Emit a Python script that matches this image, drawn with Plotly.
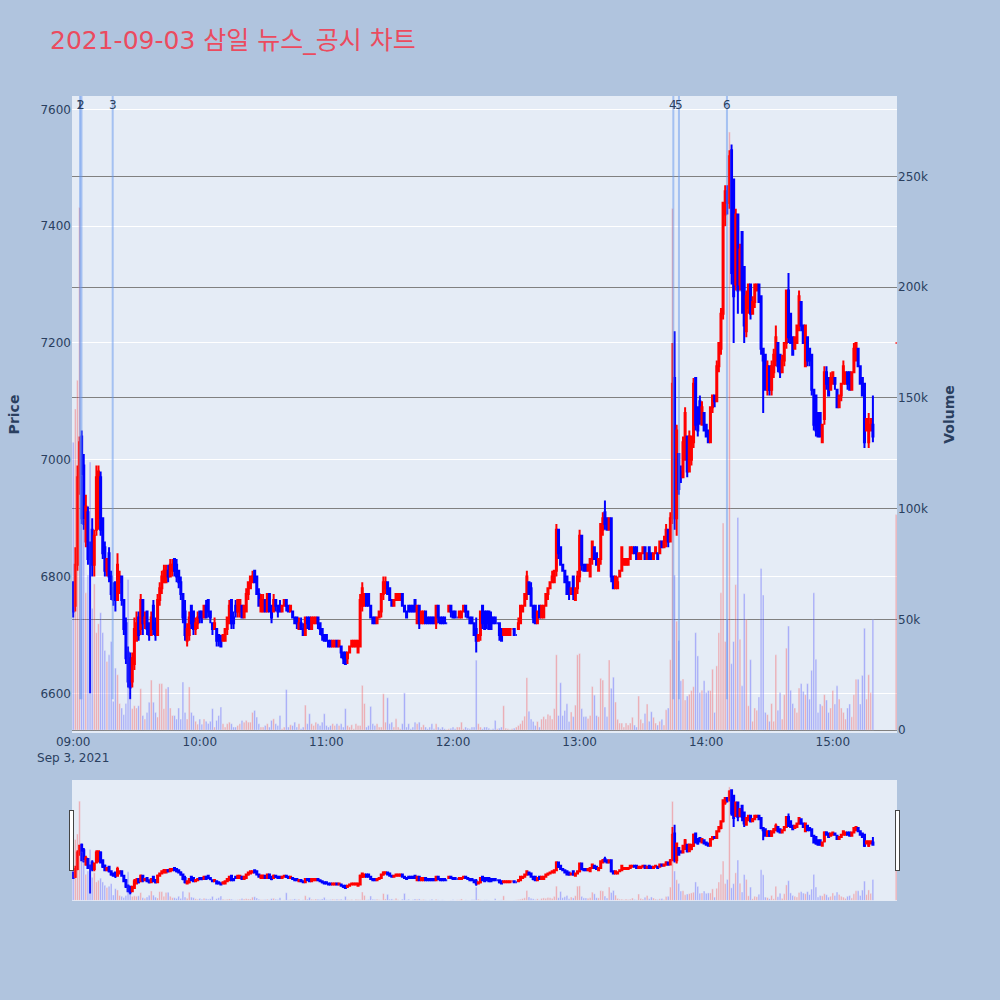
import plotly.graph_objects as go
import pandas as pd

# ---- data (1-minute candles 09:00..15:19 plus the 15:30 closing print) ----
opens = [
    6790, 6750, 6820, 6970, 7040, 6990, 6860, 6910, 6850, 6880,
    6820, 6880, 6900, 6970, 6900, 6850, 6810, 6840, 6800, 6780,
    6790, 6760, 6790, 6800, 6760, 6720, 6670, 6660, 6620, 6650,
    6690, 6730, 6710, 6760, 6720, 6740, 6720, 6700, 6750, 6720,
    6700, 6760, 6780, 6790, 6790, 6810, 6800, 6810, 6830, 6820,
    6810, 6790, 6770, 6740, 6690, 6700, 6750, 6740, 6710, 6720,
    6740, 6740, 6730, 6750, 6760, 6740, 6720, 6710, 6710, 6700,
    6690, 6690, 6690, 6710, 6720, 6760, 6730, 6750, 6740, 6740,
    6750, 6730, 6740, 6770, 6780, 6790, 6810, 6800, 6770, 6740,
    6740, 6760, 6740, 6770, 6750, 6740, 6760, 6750, 6750, 6740,
    6750, 6760, 6750, 6740, 6740, 6730, 6730, 6710, 6720, 6710,
    6700, 6730, 6730, 6710, 6720, 6720, 6730, 6720, 6710, 6700,
    6700, 6690, 6690, 6680, 6680, 6690, 6680, 6680, 6670, 6670,
    6660, 6670, 6680, 6680, 6680, 6670, 6680, 6750, 6750, 6770,
    6770, 6750, 6730, 6730, 6720, 6730, 6740, 6770, 6780, 6790,
    6780, 6760, 6750, 6760, 6760, 6760, 6770, 6750, 6740, 6750,
    6750, 6750, 6760, 6720, 6750, 6720, 6720, 6740, 6730, 6730,
    6730, 6730, 6720, 6750, 6730, 6730, 6730, 6720, 6740, 6750,
    6740, 6740, 6730, 6730, 6730, 6740, 6750, 6740, 6730, 6730,
    6720, 6710, 6690, 6700, 6750, 6740, 6740, 6740, 6730, 6730,
    6730, 6720, 6720, 6710, 6700, 6700, 6700, 6700, 6710, 6710,
    6700, 6710, 6720, 6740, 6750, 6770, 6790, 6780, 6750, 6750,
    6720, 6750, 6730, 6730, 6750, 6770, 6780, 6790, 6790, 6810,
    6880, 6850, 6820, 6810, 6800, 6790, 6770, 6800, 6760, 6780,
    6800, 6870, 6820, 6820, 6810, 6800, 6830, 6850, 6840, 6810,
    6830, 6880, 6910, 6900, 6880, 6900, 6800, 6780, 6780, 6800,
    6810, 6820, 6820, 6820, 6830, 6840, 6850, 6850, 6830, 6830,
    6840, 6850, 6830, 6850, 6840, 6830, 6840, 6840, 6840, 6860,
    6850, 6860, 6880, 6860, 6900, 7140, 6900, 7010, 6980, 6970,
    7000, 7040, 6980, 7000, 7030, 7140, 7090, 7100, 7060, 7080,
    7060, 7050, 7030, 7090, 7110, 7100, 7160, 7190, 7250, 7420,
    7460, 7440, 7530, 7480, 7300, 7420, 7300, 7390, 7330, 7220,
    7260, 7300, 7250, 7270, 7290, 7300, 7280, 7190, 7180, 7120,
    7160, 7120, 7150, 7170, 7200, 7180, 7150, 7170, 7200, 7290,
    7250, 7210, 7190, 7200, 7230, 7270, 7230, 7160, 7210, 7190,
    7180, 7120, 7110, 7080, 7080, 7030, 7070, 7150, 7140, 7120,
    7130, 7140, 7120, 7090, 7110, 7130, 7130, 7150, 7150, 7120,
    7150, 7170, 7190, 7160, 7140, 7130, 7050, 7030, 7050, 7060,
    7200,
]
highs = [
    6790, 6850, 6990, 7040, 7050, 7010, 6940, 6920, 6860, 6900,
    6880, 6990, 6990, 6980, 6900, 6860, 6830, 6850, 6810, 6790,
    6790, 6840, 6810, 6800, 6760, 6730, 6680, 6670, 6670, 6730,
    6740, 6740, 6770, 6760, 6740, 6740, 6720, 6740, 6760, 6730,
    6770, 6790, 6810, 6820, 6820, 6820, 6830, 6830, 6830, 6830,
    6810, 6800, 6770, 6760, 6720, 6740, 6750, 6740, 6730, 6740,
    6740, 6740, 6750, 6760, 6760, 6740, 6720, 6730, 6710, 6700,
    6700, 6700, 6710, 6730, 6760, 6760, 6740, 6760, 6760, 6760,
    6750, 6750, 6780, 6790, 6800, 6810, 6810, 6800, 6780, 6770,
    6770, 6760, 6770, 6770, 6750, 6770, 6760, 6750, 6760, 6750,
    6760, 6760, 6750, 6750, 6740, 6730, 6730, 6730, 6730, 6720,
    6730, 6730, 6730, 6730, 6730, 6730, 6730, 6720, 6710, 6700,
    6700, 6690, 6690, 6690, 6690, 6690, 6690, 6680, 6670, 6670,
    6670, 6680, 6690, 6690, 6690, 6690, 6770, 6790, 6770, 6770,
    6770, 6750, 6730, 6730, 6730, 6740, 6770, 6800, 6800, 6790,
    6780, 6760, 6760, 6770, 6770, 6770, 6770, 6750, 6740, 6750,
    6750, 6750, 6760, 6750, 6750, 6740, 6740, 6740, 6730, 6730,
    6730, 6730, 6750, 6750, 6730, 6730, 6730, 6720, 6750, 6750,
    6740, 6740, 6730, 6740, 6740, 6750, 6750, 6740, 6730, 6730,
    6720, 6730, 6700, 6740, 6750, 6740, 6740, 6740, 6740, 6730,
    6730, 6720, 6720, 6710, 6710, 6710, 6710, 6710, 6710, 6710,
    6700, 6730, 6750, 6750, 6770, 6810, 6790, 6790, 6750, 6750,
    6740, 6750, 6750, 6750, 6770, 6780, 6790, 6810, 6810, 6890,
    6880, 6850, 6820, 6810, 6800, 6790, 6780, 6800, 6780, 6810,
    6880, 6870, 6820, 6820, 6820, 6830, 6860, 6850, 6840, 6830,
    6890, 6910, 6930, 6900, 6900, 6900, 6800, 6800, 6800, 6810,
    6850, 6830, 6830, 6830, 6850, 6850, 6850, 6850, 6840, 6840,
    6850, 6850, 6840, 6850, 6840, 6840, 6850, 6840, 6860, 6860,
    6870, 6890, 6880, 6910, 7200, 7220, 7060, 7010, 6990, 7040,
    7090, 7040, 7050, 7040, 7140, 7140, 7090, 7110, 7100, 7080,
    7060, 7050, 7090, 7110, 7110, 7170, 7200, 7260, 7440, 7470,
    7470, 7530, 7540, 7480, 7430, 7420, 7370, 7390, 7330, 7290,
    7300, 7300, 7280, 7300, 7300, 7300, 7280, 7190, 7180, 7170,
    7160, 7170, 7190, 7230, 7200, 7180, 7180, 7200, 7290, 7320,
    7250, 7210, 7210, 7230, 7290, 7270, 7230, 7230, 7210, 7190,
    7180, 7120, 7110, 7080, 7080, 7060, 7160, 7160, 7140, 7150,
    7150, 7140, 7120, 7110, 7130, 7170, 7150, 7150, 7150, 7150,
    7200, 7200, 7190, 7160, 7140, 7130, 7070, 7080, 7070, 7110,
    7200,
]
lows = [
    6730, 6740, 6810, 6940, 6890, 6880, 6850, 6820, 6600, 6800,
    6800, 6870, 6880, 6870, 6830, 6800, 6800, 6790, 6760, 6750,
    6740, 6760, 6770, 6750, 6700, 6650, 6610, 6590, 6610, 6640,
    6690, 6690, 6700, 6700, 6710, 6700, 6690, 6700, 6700, 6690,
    6700, 6750, 6770, 6790, 6790, 6790, 6800, 6800, 6800, 6790,
    6780, 6760, 6720, 6690, 6680, 6690, 6710, 6700, 6700, 6710,
    6720, 6720, 6730, 6730, 6730, 6720, 6700, 6710, 6680, 6680,
    6680, 6690, 6690, 6700, 6720, 6710, 6710, 6730, 6730, 6730,
    6730, 6730, 6740, 6760, 6780, 6790, 6790, 6770, 6750, 6740,
    6740, 6740, 6740, 6740, 6720, 6740, 6740, 6730, 6740, 6740,
    6750, 6740, 6740, 6740, 6730, 6720, 6710, 6710, 6710, 6700,
    6700, 6710, 6710, 6710, 6720, 6720, 6710, 6700, 6690, 6690,
    6690, 6680, 6680, 6680, 6680, 6680, 6680, 6660, 6650, 6650,
    6650, 6670, 6680, 6680, 6680, 6670, 6680, 6740, 6750, 6750,
    6750, 6730, 6720, 6720, 6720, 6730, 6730, 6760, 6770, 6770,
    6760, 6750, 6750, 6760, 6760, 6760, 6750, 6740, 6730, 6740,
    6740, 6740, 6740, 6720, 6710, 6720, 6720, 6720, 6720, 6720,
    6720, 6720, 6710, 6720, 6720, 6720, 6720, 6720, 6740, 6730,
    6730, 6730, 6730, 6730, 6730, 6740, 6730, 6730, 6720, 6720,
    6700, 6670, 6690, 6690, 6710, 6710, 6710, 6710, 6710, 6720,
    6720, 6720, 6690, 6690, 6700, 6700, 6700, 6700, 6710, 6700,
    6700, 6710, 6720, 6740, 6750, 6760, 6770, 6750, 6720, 6720,
    6720, 6730, 6730, 6730, 6750, 6760, 6780, 6790, 6790, 6800,
    6830, 6820, 6810, 6790, 6770, 6760, 6770, 6760, 6760, 6770,
    6790, 6810, 6810, 6810, 6810, 6800, 6820, 6830, 6820, 6810,
    6820, 6870, 6880, 6880, 6880, 6790, 6780, 6780, 6780, 6800,
    6810, 6820, 6820, 6820, 6830, 6840, 6840, 6830, 6830, 6830,
    6840, 6830, 6830, 6830, 6830, 6830, 6840, 6830, 6840, 6850,
    6850, 6850, 6850, 6860, 6890, 6880, 6870, 6940, 6960, 6970,
    7000, 6970, 6980, 6990, 7020, 7050, 7040, 7060, 7060, 7050,
    7040, 7030, 7030, 7080, 7090, 7100, 7150, 7180, 7240, 7400,
    7420, 7430, 7300, 7200, 7290, 7250, 7290, 7250, 7200, 7210,
    7250, 7240, 7250, 7260, 7290, 7270, 7180, 7080, 7120, 7110,
    7110, 7110, 7140, 7160, 7150, 7140, 7150, 7160, 7190, 7200,
    7200, 7180, 7190, 7200, 7220, 7220, 7200, 7160, 7160, 7160,
    7110, 7050, 7040, 7040, 7040, 7030, 7060, 7120, 7110, 7120,
    7130, 7120, 7090, 7090, 7100, 7130, 7130, 7120, 7120, 7120,
    7150, 7170, 7160, 7130, 7110, 7020, 7050, 7020, 7050, 7030,
    7200,
]
closes = [
    6740, 6820, 6970, 7030, 6900, 6890, 6920, 6830, 6830, 6820,
    6870, 6970, 6980, 6880, 6840, 6810, 6830, 6800, 6770, 6760,
    6760, 6820, 6800, 6760, 6710, 6660, 6620, 6610, 6660, 6710,
    6720, 6700, 6760, 6720, 6730, 6710, 6700, 6730, 6710, 6700,
    6760, 6780, 6800, 6810, 6810, 6800, 6820, 6820, 6810, 6800,
    6790, 6770, 6730, 6700, 6710, 6730, 6720, 6710, 6720, 6730,
    6730, 6730, 6750, 6730, 6740, 6730, 6710, 6720, 6690, 6690,
    6680, 6700, 6710, 6730, 6750, 6720, 6720, 6740, 6760, 6760,
    6730, 6750, 6770, 6790, 6800, 6800, 6790, 6770, 6750, 6760,
    6760, 6740, 6770, 6740, 6730, 6760, 6750, 6740, 6740, 6750,
    6760, 6750, 6740, 6750, 6730, 6720, 6720, 6720, 6710, 6700,
    6730, 6720, 6710, 6730, 6730, 6730, 6720, 6710, 6700, 6690,
    6690, 6680, 6680, 6690, 6690, 6680, 6690, 6670, 6660, 6650,
    6670, 6680, 6690, 6690, 6690, 6690, 6760, 6780, 6770, 6750,
    6750, 6730, 6720, 6720, 6730, 6740, 6770, 6790, 6790, 6770,
    6760, 6750, 6760, 6770, 6770, 6770, 6750, 6740, 6730, 6740,
    6740, 6740, 6740, 6750, 6720, 6740, 6740, 6720, 6720, 6720,
    6720, 6720, 6750, 6730, 6720, 6720, 6720, 6720, 6750, 6740,
    6730, 6730, 6730, 6740, 6740, 6750, 6740, 6730, 6720, 6720,
    6700, 6690, 6700, 6740, 6720, 6710, 6720, 6710, 6710, 6720,
    6720, 6720, 6700, 6690, 6710, 6710, 6710, 6710, 6710, 6700,
    6700, 6720, 6750, 6750, 6770, 6800, 6770, 6750, 6730, 6720,
    6740, 6730, 6750, 6750, 6770, 6780, 6790, 6800, 6810, 6880,
    6840, 6820, 6810, 6790, 6770, 6770, 6780, 6770, 6780, 6800,
    6870, 6820, 6810, 6810, 6820, 6830, 6860, 6830, 6820, 6830,
    6890, 6900, 6890, 6880, 6900, 6800, 6780, 6800, 6790, 6810,
    6850, 6830, 6830, 6830, 6850, 6850, 6840, 6830, 6840, 6840,
    6850, 6830, 6840, 6830, 6830, 6840, 6850, 6830, 6860, 6850,
    6860, 6880, 6860, 6900, 7130, 6900, 7050, 6950, 6970, 7030,
    7080, 6980, 7040, 7040, 7130, 7060, 7050, 7070, 7090, 7050,
    7040, 7030, 7090, 7110, 7100, 7160, 7200, 7250, 7440, 7460,
    7440, 7520, 7320, 7280, 7420, 7290, 7360, 7290, 7230, 7280,
    7300, 7250, 7270, 7300, 7300, 7270, 7190, 7170, 7120, 7160,
    7120, 7160, 7180, 7210, 7160, 7150, 7170, 7200, 7290, 7210,
    7200, 7180, 7210, 7230, 7280, 7230, 7200, 7230, 7170, 7170,
    7120, 7060, 7050, 7040, 7040, 7060, 7150, 7130, 7110, 7140,
    7150, 7130, 7090, 7110, 7130, 7160, 7150, 7130, 7120, 7150,
    7190, 7200, 7160, 7130, 7110, 7030, 7070, 7060, 7070, 7040,
    7200,
]
volumes = [
    130000, 145000, 158000, 236000, 115000, 95000, 62000, 70000, 121000, 55000,
    66000, 44000, 48000, 53000, 44000, 36000, 31000, 34000, 40000, 13000,
    28000, 25000, 12000, 10000, 7000, 12000, 68000, 14000, 9700, 11000,
    10000, 11000, 18700, 6600, 5000, 8000, 12600, 22600, 12600, 8000,
    5900, 21000, 21000, 9700, 18700, 19500, 10000, 6600, 6600, 5000,
    10000, 5000, 21700, 8000, 5000, 19500, 8000, 6600, 4000, 2700,
    5000, 2700, 5000, 4000, 3000, 4000, 9700, 1400, 4400, 6600,
    10400, 2900, 1400, 2900, 3600, 2900, 1400, 1400, 2100, 2900,
    4400, 3600, 4400, 3600, 3600, 8000, 8900, 5900, 2900, 1400,
    1400, 2100, 2900, 1400, 4400, 5100, 2900, 2100, 6600, 600,
    1400, 18300, 1400, 2400, 2100, 3600, 1400, 2900, 600, 1400,
    11300, 2900, 7400, 2900, 2100, 3600, 2900, 2100, 3600, 7400,
    2100, 1400, 2100, 2900, 2100, 2900, 2100, 2900, 1400, 9700,
    2100, 1400, 2400, 600, 2900, 2100, 2100, 20200, 12000, 1400,
    2100, 10700, 2900, 2100, 2900, 1400, 1400, 16400, 3600, 14600,
    2900, 3600, 1400, 5100, 1400, 600, 2900, 16800, 1400, 2900,
    600, 1400, 3600, 2900, 3600, 1400, 2400, 1400, 600, 1400,
    2900, 600, 2900, 1400, 600, 1400, 600, 300, 600, 900,
    1400, 600, 1400, 1400, 3600, 600, 1400, 900, 600, 1400,
    1400, 31600, 2900, 1400, 600, 1400, 1400, 900, 300, 600,
    4400, 600, 900, 1400, 11000, 900, 600, 300, 600, 900,
    1400, 2100, 2900, 4400, 6300, 23700, 8500, 5000, 3900, 2100,
    3900, 1400, 5000, 6100, 5000, 7200, 6600, 5000, 9700, 34000,
    6600, 21400, 6600, 8900, 11900, 3900, 8200, 6100, 11300, 34000,
    34600, 9700, 6100, 6100, 5300, 6600, 19700, 15800, 6600, 6100,
    23400, 22600, 10400, 6100, 31700, 18900, 23900, 12700, 4900, 3200,
    3200, 1400, 3200, 2300, 3200, 5800, 2300, 1400, 15400, 4900,
    3200, 7500, 11800, 4000, 8300, 5800, 3200, 2300, 4000, 4900,
    2300, 9200, 10000, 31800, 235500, 70000, 49200, 40500, 22300, 23100,
    13600, 15400, 16200, 17900, 19600, 44000, 33500, 17000, 18000, 22300,
    17000, 17900, 17900, 27500, 8000, 29000, 44000, 62000, 93500, 40000,
    50000, 270000, 30000, 40000, 65700, 96000, 41000, 20000, 61600, 50000,
    11000, 31800, 4000, 10000, 9000, 15000, 73000, 61000, 8000, 7000,
    4000, 12000, 4000, 34000, 9000, 17000, 5000, 16000, 37000, 47000,
    18000, 12000, 10000, 8000, 19000, 21000, 17500, 16000, 21000, 14000,
    27000, 62000, 32000, 8000, 11800, 11000, 16000, 13600, 8000, 10000,
    17900, 11800, 20000, 14000, 10000, 8000, 5000, 10000, 11800, 6000,
    16000, 23000, 23000, 11800, 24700, 46000, 14000, 25000, 17000, 50000,
    97300,
]
times = list(pd.date_range("2021-09-03 09:00", periods=380, freq="min")
             .strftime("%Y-%m-%d %H:%M:%S")) + ["2021-09-03 15:30:00"]

news_times = ["2021-09-03 09:03:15", "2021-09-03 09:03:55", "2021-09-03 09:18:43",
              "2021-09-03 13:44:25", "2021-09-03 13:47:05", "2021-09-03 14:09:50"]
news_labels = ["1", "2", "3", "4", "5", "6"]

title_text = "2021-09-03 삼일 뉴스_공시 차트"
x_range = ["2021-09-03 08:59:26", "2021-09-03 15:30:25"]
price_range = [6532, 7623]
volume_range = [-1300, 286300]

assert len(opens) == len(highs) == len(lows) == len(closes) == len(volumes) == len(times)

# volume colour follows candle direction
vol_colors = []
prev = closes[0]
for o, c in zip(opens, closes):
    up = c > o or (c == o and c >= prev)
    vol_colors.append("red" if up else "blue")
    prev = c

FONT = '"DejaVu Sans", "Noto Sans CJK KR", verdana, sans-serif'
TITLE_FONT = '"DejaVu Sans", "Noto Sans CJK SC", "Noto Sans CJK KR", sans-serif'

fig = go.Figure()
fig.add_trace(go.Candlestick(
    x=times, open=opens, high=highs, low=lows, close=closes, name="Price",
    increasing=dict(line=dict(color="red", width=2), fillcolor="red"),
    decreasing=dict(line=dict(color="blue", width=2), fillcolor="blue"),
))
fig.add_trace(go.Bar(
    x=times, y=volumes, name="Volume", yaxis="y2", opacity=0.3,
    marker=dict(color=vol_colors),
))

for t, lab in zip(news_times, news_labels):
    fig.add_shape(type="line", xref="x", yref="y", x0=t, x1=t,
                  y0=min(lows), y1=price_range[1],
                  line=dict(color="rgba(100,149,237,0.5)", width=2))
    fig.add_annotation(x=t, y=1, xref="x", yref="paper", text=lab,
                       showarrow=False, font=dict(size=12, color="#2a3f5f"))

fig.update_layout(
    width=1000, height=1000,
    template="plotly",
    paper_bgcolor="#b0c4de",
    plot_bgcolor="#e5ecf6",
    font=dict(family=FONT, size=12),
    title=dict(text=title_text, x=0.05, xanchor="left", y=0.96, yanchor="middle",
               font=dict(size=25, color="#eb4b5f", family=TITLE_FONT)),
    margin=dict(l=72, r=103, t=96, b=100),
    showlegend=False,
    xaxis=dict(type="date", range=x_range, showgrid=False,
               tick0="2021-09-03 09:00", dtick=3600000,
               rangeslider=dict(visible=True, bgcolor="#e5ecf6", range=x_range)),
    yaxis=dict(title=dict(text="<b>Price</b>", font=dict(size=14), standoff=17),
               range=price_range, dtick=200, gridcolor="white"),
    yaxis2=dict(title=dict(text="<b>Volume</b>", font=dict(size=14), standoff=17),
                overlaying="y", side="right", range=volume_range, dtick=50000,
                showgrid=True, gridcolor="gray", zeroline=False),
)

fig.write_html("out.html", config={"displayModeBar": False},
               post_script="document.body.style.margin='0';")
